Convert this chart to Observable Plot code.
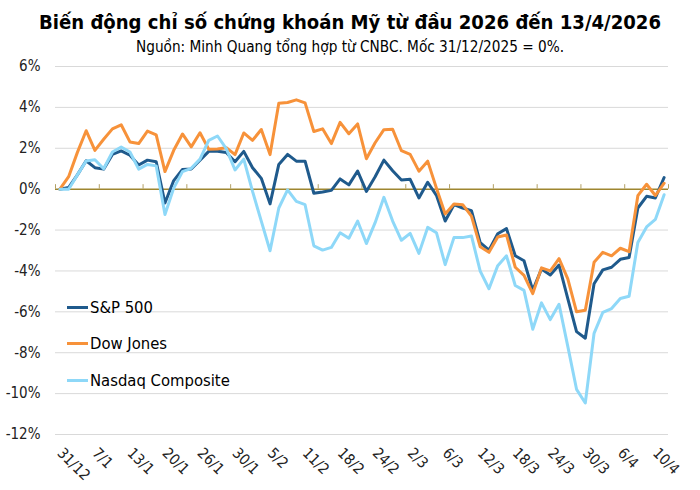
<!DOCTYPE html>
<html><head><meta charset="utf-8">
<script src="https://cdn.jsdelivr.net/npm/d3@7"></script>
<script src="https://cdn.jsdelivr.net/npm/@observablehq/plot@0.6"></script>
<style>
body{margin:0;background:#fff;font-family:"DejaVu Sans Condensed","DejaVu Sans",sans-serif;}
#wrap{position:relative;width:700px;height:490px;overflow:hidden}
#title{position:absolute;left:0;top:8px;width:700px;text-align:center;font-weight:bold;font-size:20.1px;line-height:28px;color:#000}
#sub{position:absolute;left:0;top:37px;width:700px;text-align:center;font-size:15.2px;line-height:20px;color:#000}
#chart{position:absolute;left:0;top:57px}
#legend{position:absolute;left:67px;top:289px;font-size:16.5px;color:#000}
.item{display:flex;align-items:center;height:36.5px}
.sw{width:21px;height:3px;margin-right:2px}
</style></head>
<body><div id="wrap">
<div id="title">Biến động chỉ số chứng khoán Mỹ từ đầu 2026 đến 13/4/2026</div>
<div id="sub">Nguồn: Minh Quang tổng hợp từ CNBC. Mốc 31/12/2025 = 0%.</div>
<div id="chart"></div>
<div id="legend"></div>
</div>
<script>
const dates = ["31/12","2/1","5/1","6/1","7/1","8/1","9/1","12/1","13/1","14/1","15/1","16/1","20/1","21/1","22/1","23/1","26/1","27/1","28/1","29/1","30/1","2/2","3/2","4/2","5/2","6/2","9/2","10/2","11/2","12/2","13/2","17/2","18/2","19/2","20/2","23/2","24/2","25/2","26/2","27/2","2/3","3/3","4/3","5/3","6/3","9/3","10/3","11/3","12/3","13/3","16/3","17/3","18/3","19/3","20/3","23/3","24/3","25/3","26/3","27/3","30/3","31/3","1/4","2/4","6/4","7/4","8/4","9/4","10/4","13/4"];
const sp500 = [0,0.08,0.7,1.39,1.05,0.98,1.7,1.87,1.66,1.18,1.42,1.34,-0.68,0.42,0.96,0.99,1.42,1.85,1.85,1.79,1.34,1.85,1.05,0.53,-0.72,1.21,1.7,1.37,1.37,-0.2,-0.14,-0.06,0.5,0.21,0.89,-0.11,0.61,1.42,0.9,0.45,0.48,-0.43,0.34,-0.3,-1.56,-0.76,-0.92,-1.05,-2.61,-2.98,-2.18,-1.93,-3.26,-3.5,-4.95,-3.9,-4.2,-3.71,-5.35,-6.97,-7.29,-4.63,-3.95,-3.82,-3.43,-3.34,-0.92,-0.35,-0.43,0.57];
const dowJones = [0,0.61,1.8,2.86,1.9,2.44,2.95,3.15,2.31,2.23,2.84,2.66,0.86,1.9,2.7,2.07,2.76,1.95,1.96,2.03,1.69,2.75,2.39,2.92,1.69,4.2,4.24,4.37,4.22,2.82,2.95,2.23,3.27,2.71,3.19,1.49,2.27,2.91,2.93,1.88,1.7,0.88,1.37,0.05,-1.21,-0.73,-0.76,-1.32,-2.82,-3.09,-2.34,-2.24,-3.82,-4.22,-5.11,-3.85,-4.0,-3.4,-4.39,-6.0,-5.92,-3.58,-3.09,-3.26,-2.89,-3.06,-0.32,0.24,-0.31,0.29];
const nasdaq = [0,0,0.7,1.38,1.44,1.0,1.82,2.06,1.82,0.98,1.21,1.14,-1.24,0.05,0.86,1.02,1.47,2.39,2.6,1.98,0.94,1.47,-0.11,-1.56,-3.01,-0.92,-0.03,-0.6,-0.76,-2.77,-2.98,-2.85,-2.13,-2.4,-1.56,-2.66,-1.64,-0.4,-1.56,-2.5,-2.16,-3.14,-1.87,-2.13,-3.69,-2.37,-2.37,-2.29,-4.01,-4.87,-3.74,-3.26,-4.71,-4.95,-6.85,-5.56,-6.38,-5.63,-7.69,-9.79,-10.46,-7.05,-6.03,-5.84,-5.35,-5.24,-2.61,-1.85,-1.48,-0.27];
const seriesNames = ["S&P 500","Dow Jones","Nasdaq Composite"];
const seriesColors = ["#1f5a8c","#f7923a","#8ed8f8"];
const yTicks = [-12,-10,-8,-6,-4,-2,0,2,4,6];
const labelIdx = d3.range(0, dates.length, 4);
const tickBounds = d3.range(-0.5, dates.length, 5);

const values = [sp500, dowJones, nasdaq];
const data = seriesNames.flatMap((s, k) => values[k].map((v, i) => ({i, v, series: s})));

const font = '"DejaVu Sans Condensed","DejaVu Sans",sans-serif';
const chart = Plot.plot({
  width: 700, height: 433,
  marginTop: 9, marginBottom: 56, marginLeft: 55, marginRight: 32,
  style: {fontFamily: font, fontSize: "15px", color: "#222", background: "transparent"},
  x: {type: "linear", domain: [-0.5, dates.length - 0.5]},
  y: {domain: [-12, 6]},
  color: {domain: seriesNames, range: seriesColors},
  marks: [
    Plot.ruleY(yTicks.filter(d => d !== 0), {stroke: "#d9d9d9", strokeWidth: 1}),
    Plot.axisY({ticks: yTicks, tickSize: 0, tickPadding: 15, tickFormat: d => d + "%", label: null, fontSize: 15}),
    Plot.axisX({ticks: labelIdx, tickSize: 0, tickPadding: 16, tickRotate: 45, tickFormat: i => dates[i], label: null, fontSize: 15}),
    Plot.ruleY([0], {stroke: "#9e8630", strokeWidth: 1.5}),
    Plot.ruleX(tickBounds, {y1: 0, y2: 0.22, stroke: "#b3a064", strokeWidth: 1}),
    Plot.line(data, {x: "i", y: "v", z: "series", stroke: "series", strokeWidth: 3})
  ]
});
document.getElementById("chart").appendChild(chart);

const legend = document.getElementById("legend");
seriesNames.forEach((s, k) => {
  const it = document.createElement("div"); it.className = "item";
  const sw = document.createElement("div"); sw.className = "sw"; sw.style.background = seriesColors[k];
  const tx = document.createElement("span"); tx.textContent = s;
  it.appendChild(sw); it.appendChild(tx); legend.appendChild(it);
});
</script>
</body></html>
